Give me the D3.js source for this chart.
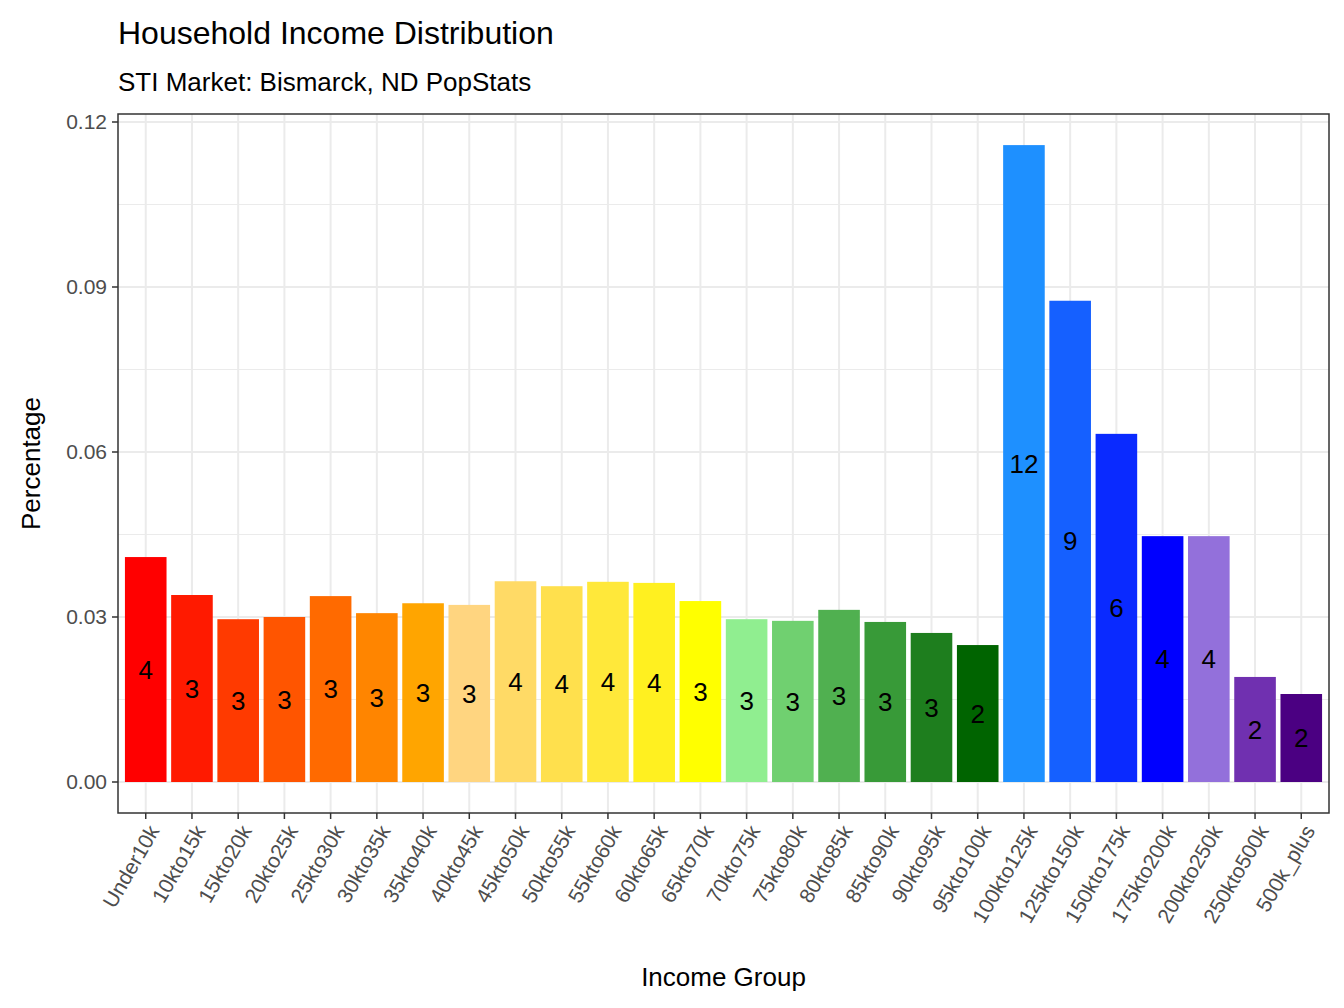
<!DOCTYPE html>
<html><head><meta charset="utf-8">
<script src="https://cdn.jsdelivr.net/npm/d3@7"></script>
<style>body{margin:0;background:#fff}text{font-family:"Liberation Sans",Arial,sans-serif}</style>
</head><body><svg id="c" width="1344" height="1008"></svg>
<script>
const categories=["Under10k","10kto15k","15kto20k","20kto25k","25kto30k","30kto35k","35kto40k","40kto45k","45kto50k","50kto55k","55kto60k","60kto65k","65kto70k","70kto75k","75kto80k","80kto85k","85kto90k","90kto95k","95kto100k","100kto125k","125kto150k","150kto175k","175kto200k","200kto250k","250kto500k","500k_plus"];
const values=[0.0409,0.0340,0.0296,0.0300,0.0338,0.0307,0.0325,0.0322,0.0365,0.0356,0.0364,0.0362,0.0329,0.0296,0.0293,0.0313,0.0291,0.0271,0.0249,0.1158,0.0875,0.0633,0.0447,0.0447,0.0191,0.0160];
const labels=[4,3,3,3,3,3,3,3,4,4,4,4,3,3,3,3,3,3,2,12,9,6,4,4,2,2];
const colors=["#FF0000","#FF1A00","#FF3A00","#FF5500","#FF6A00","#FF8500","#FFA500","#FFD580","#FFDA66","#FFE04D","#FFE83A","#FFF020","#FFFF00","#90EE90","#70D070","#50B050","#389A38","#1E7E1E","#006400","#1E90FF","#1560FF","#0A2AFF","#0000FF","#9370DB","#7030B0","#4B0082"];
const yTicks=[0,0.03,0.06,0.09,0.12];
const yTickLabels=["0.00","0.03","0.06","0.09","0.12"];
const minorTicks=[0.015,0.045,0.075,0.105];
const svg=d3.select("#c");
const L=118,R=1329,T=114,B=813;
const n=categories.length;
const exp=0.6*(R-L)/(n-1+1.2);
const x=d3.scalePoint().domain(categories).range([L+exp,R-exp]);
const step=x.step();
const y=d3.scaleLinear().domain([0,0.12]).range([782,122]);
const g=svg.append("g");
minorTicks.forEach(t=>g.append("line").attr("x1",L).attr("x2",R).attr("y1",y(t)).attr("y2",y(t)).attr("stroke","#EBEBEB").attr("stroke-width",1));
yTicks.forEach(t=>g.append("line").attr("x1",L).attr("x2",R).attr("y1",y(t)).attr("y2",y(t)).attr("stroke","#EBEBEB").attr("stroke-width",2));
categories.forEach(c=>g.append("line").attr("x1",x(c)).attr("x2",x(c)).attr("y1",T).attr("y2",B).attr("stroke","#EBEBEB").attr("stroke-width",2));
const bw=step*0.9;
g.selectAll("rect.b").data(values).join("rect").attr("x",(d,i)=>x(categories[i])-bw/2).attr("width",bw)
 .attr("y",d=>y(d)).attr("height",d=>y(0)-y(d)).attr("fill",(d,i)=>colors[i]);
g.selectAll("text.l").data(values).join("text").attr("x",(d,i)=>x(categories[i])).attr("y",d=>y(d/2)).attr("dy","0.35em")
 .attr("text-anchor","middle").attr("font-size",26).attr("fill","#000").text((d,i)=>labels[i]);
svg.append("rect").attr("x",L).attr("y",T).attr("width",R-L).attr("height",B-T).attr("fill","none").attr("stroke","#333").attr("stroke-width",1.5);
yTicks.forEach((t,i)=>{
 svg.append("line").attr("x1",L-6).attr("x2",L).attr("y1",y(t)).attr("y2",y(t)).attr("stroke","#333").attr("stroke-width",1.5);
 svg.append("text").attr("x",L-11).attr("y",y(t)).attr("dy","0.35em").attr("text-anchor","end").attr("font-size",21).attr("fill","#4D4D4D").text(yTickLabels[i]);
});
categories.forEach(c=>{
 svg.append("line").attr("x1",x(c)).attr("x2",x(c)).attr("y1",B).attr("y2",B+6).attr("stroke","#333").attr("stroke-width",1.5);
 svg.append("text").attr("transform",`translate(${x(c)+8},${B+14}) rotate(-60)`).attr("text-anchor","end").attr("dy","0.35em").attr("font-size",21).attr("fill","#4D4D4D").text(c);
});
svg.append("text").attr("x",(L+R)/2).attr("y",986).attr("text-anchor","middle").attr("font-size",26).text("Income Group");
svg.append("text").attr("transform",`translate(40,${(T+B)/2}) rotate(-90)`).attr("text-anchor","middle").attr("font-size",26).text("Percentage");
svg.append("text").attr("x",118).attr("y",44).attr("font-size",32).text("Household Income Distribution");
svg.append("text").attr("x",118).attr("y",91).attr("font-size",26).text("STI Market: Bismarck, ND PopStats");
</script></body></html>
